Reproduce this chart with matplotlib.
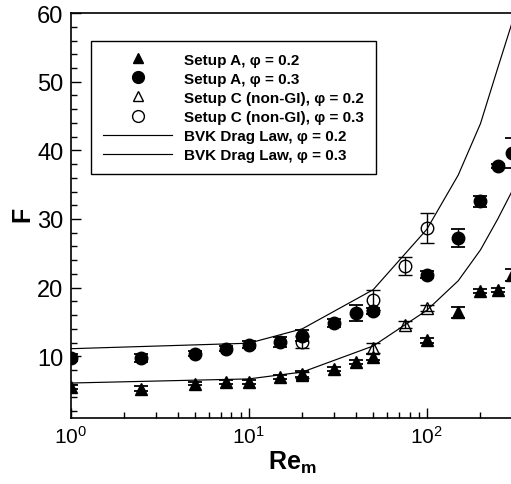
import matplotlib
matplotlib.use("Agg")
import matplotlib.pyplot as plt
from matplotlib.lines import Line2D
from matplotlib.ticker import MultipleLocator, FixedLocator

plt.rcParams['font.family'] = ['Liberation Sans', 'DejaVu Sans']
plt.rcParams['mathtext.fontset'] = 'custom'
plt.rcParams['mathtext.rm'] = 'Liberation Sans'
plt.rcParams['mathtext.it'] = 'Liberation Sans:italic'
plt.rcParams['mathtext.bf'] = 'Liberation Sans:bold'

# Setup A (both phi)
re_a = [1, 2.5, 5, 7.5, 10, 15, 20, 30, 40, 50, 100, 150, 200, 250, 300]
f_a02 = [5.5, 5.3, 6.0, 6.2, 6.3, 7.0, 7.4, 8.2, 9.2, 9.9, 12.3, 16.4, 19.5, 19.6, 21.8]
err_a02 = [0.3, 0.4, 0.2, 0.3, 0.3, 0.3, 0.4, 0.3, 0.3, 0.5, 0.3, 0.8, 0.3, 0.3, 0.9]
f_a03 = [9.8, 9.8, 10.4, 11.1, 11.7, 12.1, 13.0, 14.9, 16.3, 16.6, 21.9, 27.2, 32.6, 37.7, 39.6]
err_a03 = [0.5, 0.6, 0.4, 0.4, 0.5, 0.7, 0.8, 0.6, 1.1, 0.5, 0.5, 1.3, 0.8, 0.3, 2.2]

# Setup C (non-GI)
re_c = [20, 50, 75, 100]
f_c02 = [7.3, 11.2, 14.6, 17.0]
err_c02 = [0.4, 0.7, 0.5, 0.4]
f_c03 = [12.1, 18.2, 23.2, 28.7]
err_c03 = [0.9, 1.4, 1.3, 2.2]

# BVK drag law
re_bvk = [1, 10, 20, 50, 100, 150, 200, 250, 300, 350]
f_bvk02 = [6.1, 6.7, 7.7, 11.5, 16.7, 21.0, 25.5, 30.0, 34.0, 37.5]
f_bvk03 = [11.1, 11.9, 14.0, 19.7, 28.5, 36.4, 43.9, 52.0, 58.5, 64.0]

x_ticks = [1, 10, 100]
x_minor = [2, 3, 4, 5, 6, 7, 8, 9, 20, 30, 40, 50, 60, 70, 80, 90,
           200, 300, 400, 500, 600, 700, 800, 900]

labels = ['Setup A, φ = 0.2', 'Setup A, φ = 0.3',
          'Setup C (non-GI), φ = 0.2', 'Setup C (non-GI), φ = 0.3',
          'BVK Drag Law, φ = 0.2', 'BVK Drag Law, φ = 0.3']

fig = plt.figure(figsize=(5.11, 4.85), dpi=100)
ax = fig.add_axes([0.138, 0.136, 1.046, 0.835])

ax.plot(re_bvk, f_bvk02, color='black', lw=0.85)
ax.plot(re_bvk, f_bvk03, color='black', lw=0.85)

eb = dict(color='black', ecolor='black', elinewidth=1.0, capsize=5, capthick=1.3,
          linestyle='none')
ax.errorbar(re_a, f_a02, yerr=err_a02, marker='^', ms=8, **eb)
ax.errorbar(re_a, f_a03, yerr=err_a03, marker='o', ms=9, **eb)
ax.errorbar(re_c, f_c02, yerr=err_c02, marker='^', ms=8, mfc='none', mew=1.0, **eb)
ax.errorbar(re_c, f_c03, yerr=err_c03, marker='o', ms=9, mfc='none', mew=1.0, **eb)

ax.set_xscale('log')
ax.set_xlim(1, 1000)
ax.set_ylim(1, 60)
ax.xaxis.set_major_locator(FixedLocator(x_ticks))
ax.xaxis.set_minor_locator(FixedLocator(x_minor))
ax.yaxis.set_major_locator(MultipleLocator(10))
ax.yaxis.set_minor_locator(MultipleLocator(2))

ax.tick_params(which='both', direction='in', top=False, right=False)
ax.tick_params(axis='x', labelsize=15)
ax.tick_params(axis='y', labelsize=17)
ax.tick_params(which='major', length=7, width=1.0, pad=5)
ax.tick_params(which='minor', length=4.5, width=1.0)
for s in ax.spines.values():
    s.set_linewidth(1.2)

ax.set_xlabel(r'$\mathbf{Re}_{\mathbf{m}}$', fontsize=18)
ax.xaxis.set_label_coords(0.415, -0.075)
ax.set_ylabel('F', fontsize=18, fontweight='bold')
ax.yaxis.set_label_coords(-0.068, 0.505)

handles = [
    Line2D([], [], color='black', marker='^', ms=7, ls='none'),
    Line2D([], [], color='black', marker='o', ms=8.5, ls='none'),
    Line2D([], [], color='black', marker='^', ms=7, mfc='none', ls='none'),
    Line2D([], [], color='black', marker='o', ms=8.5, mfc='none', ls='none'),
    Line2D([], [], color='black', lw=0.85),
    Line2D([], [], color='black', lw=0.85),
]
leg = fig.legend(handles, labels, loc='upper left',
                 bbox_to_anchor=(91 / 511, 1 - 41.5 / 485),
                 bbox_transform=fig.transFigure, borderaxespad=0,
                 prop={'weight': 'bold', 'size': 11}, handlelength=4.5,
                 handletextpad=0.8, labelspacing=0.33, borderpad=0.8,
                 fancybox=False, framealpha=1, edgecolor='black')
leg.get_frame().set_linewidth(1.0)

fig.savefig('out.png', dpi=100)
